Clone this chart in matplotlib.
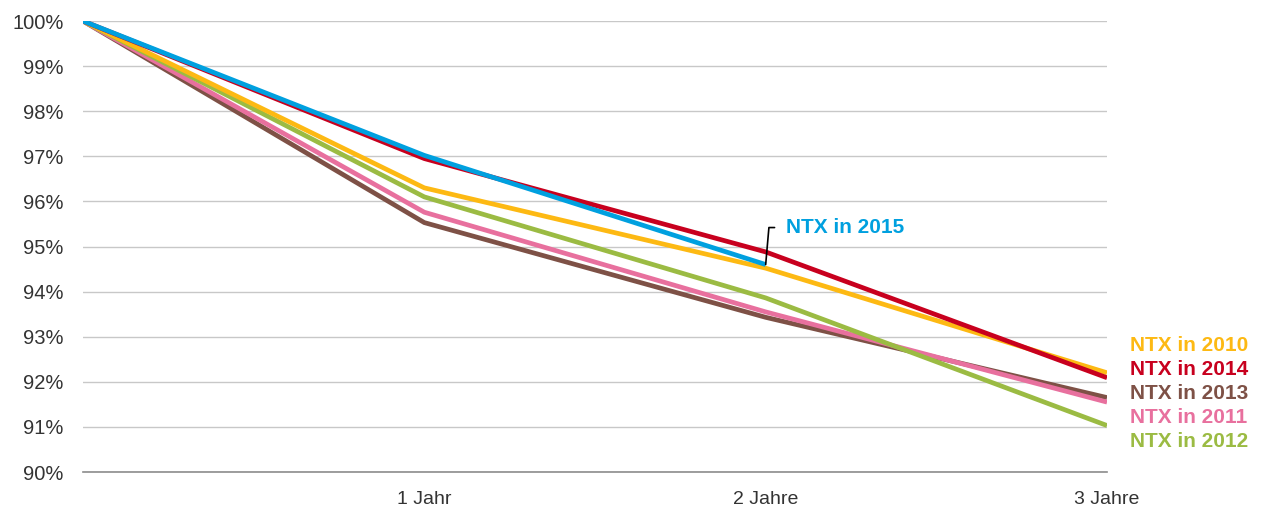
import matplotlib
matplotlib.use('Agg')
import matplotlib.pyplot as plt

plt.rcParams['font.family'] = ['Liberation Sans', 'DejaVu Sans']

# data
x_years = [0, 1, 2, 3]
x_labels = ['', '1 Jahr', '2 Jahre', '3 Jahre']
y_ticks = list(range(90, 101))

ntx_2013 = [100, 95.53, 93.43, 91.65]
ntx_2011 = [100, 95.76, 93.55, 91.55]
ntx_2012 = [100, 96.10, 93.86, 91.03]
ntx_2010 = [100, 96.30, 94.52, 92.20]
ntx_2014 = [100, 96.95, 94.88, 92.09]
ntx_2015 = [100, 97.02, 94.60]

series = [
    ('NTX in 2013', ntx_2013, '#7E5146'),
    ('NTX in 2011', ntx_2011, '#E8709E'),
    ('NTX in 2012', ntx_2012, '#9BBB43'),
    ('NTX in 2010', ntx_2010, '#FDB913'),
    ('NTX in 2014', ntx_2014, '#C8001E'),
    ('NTX in 2015', ntx_2015, '#00A0DF'),
]
# order of the labels at the right edge, top to bottom
right_order = ['NTX in 2010', 'NTX in 2014', 'NTX in 2013', 'NTX in 2011', 'NTX in 2012']

fig = plt.figure(figsize=(12.61, 5.11), dpi=100)
ax = fig.add_axes([0.0658, 0.0763, 0.8121, 0.8826])

colors = {}
for name, vals, col in series:
    colors[name] = col
    ax.plot(x_years[:len(vals)], vals, color=col, lw=3.4, solid_capstyle='butt',
            solid_joinstyle='miter', zorder=3)

ax.set_xlim(0, 3)
ax.set_ylim(90, 100)
ax.set_yticks(y_ticks)
ax.set_yticklabels([f'{v}%' for v in y_ticks])
ax.set_xticks(x_years)
ax.set_xticklabels(x_labels)
ax.tick_params(axis='both', length=0, colors='#333333')
ax.tick_params(axis='y', pad=14, labelsize=14.5)
ax.tick_params(axis='x', pad=14, labelsize=14)
ax.grid(axis='y', color='#C8C8C8', lw=1, zorder=0)
for s in ['top', 'right', 'left']:
    ax.spines[s].set_visible(False)
ax.spines['bottom'].set_color('#8C8C8C')
ax.spines['bottom'].set_linewidth(1.2)

# right-edge labels (offsets in pixels from the lower right corner)
for i, name in enumerate(right_order):
    ax.annotate(name, xy=(1, 0), xycoords='axes fraction',
                xytext=(23, 127 - i * 24), textcoords='offset pixels',
                fontsize=15, fontweight='bold', color=colors[name],
                ha='left', va='center', annotation_clip=False)

# 2015 label with leader line
ax.annotate('NTX in 2015', xy=(2, ntx_2015[2]), xytext=(20, 37),
            textcoords='offset pixels', fontsize=15, fontweight='bold',
            color=colors['NTX in 2015'], ha='left', va='center',
            arrowprops=dict(arrowstyle='-', color='black', lw=1.2,
                            shrinkA=6, shrinkB=0,
                            connectionstyle='angle,angleA=0,angleB=85,rad=0'))

fig.savefig('out.png', dpi=100)
